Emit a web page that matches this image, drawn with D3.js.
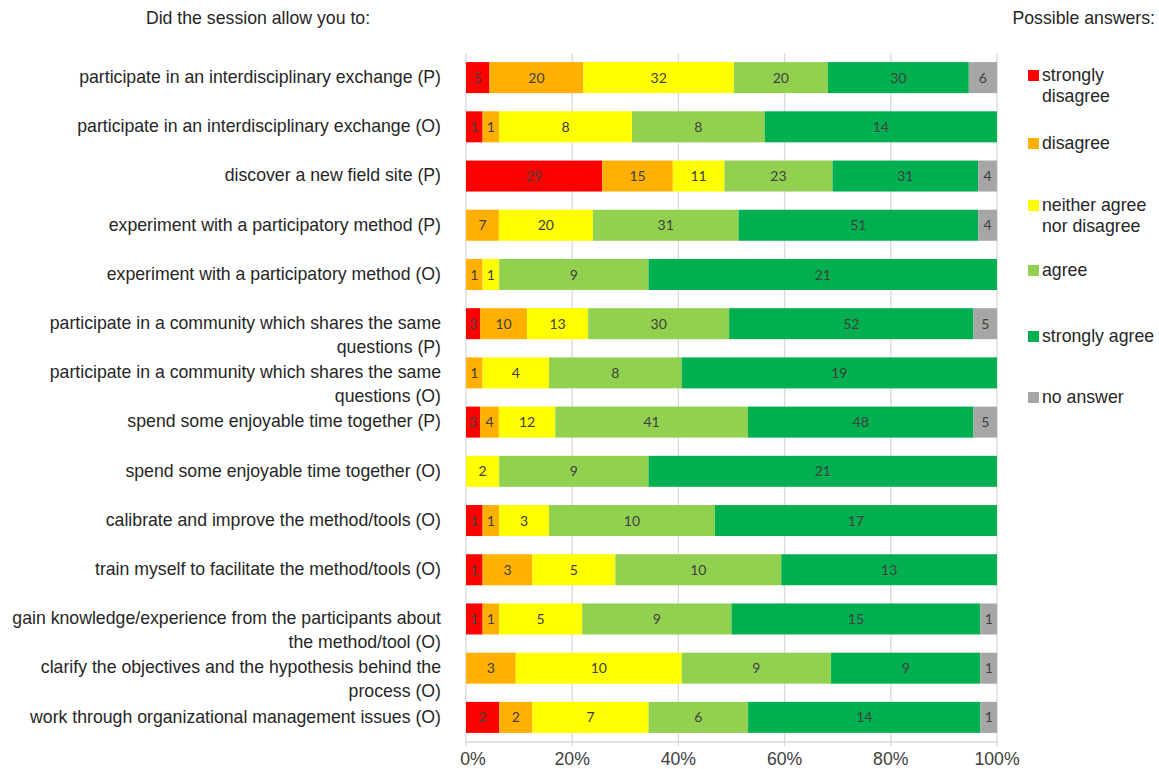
<!DOCTYPE html>
<html>
<head>
<meta charset="utf-8">
<script src="https://cdn.jsdelivr.net/npm/d3@7"></script>
<style>
  body { margin: 0; background: #fff; }
  svg text { font-family: "Liberation Sans", Arial, sans-serif; }
</style>
</head>
<body>
<div id="chart"></div>
<script>
// questions (rows, top to bottom); "\n" marks a line break in the label
const questions = [
  "participate in an interdisciplinary exchange (P)",
  "participate in an interdisciplinary exchange (O)",
  "discover a new field site (P)",
  "experiment with a participatory method (P)",
  "experiment with a participatory method (O)",
  "participate in a community which shares the same\nquestions (P)",
  "participate in a community which shares the same\nquestions (O)",
  "spend some enjoyable time together (P)",
  "spend some enjoyable time together (O)",
  "calibrate and improve the method/tools (O)",
  "train myself to facilitate the method/tools (O)",
  "gain knowledge/experience from the participants about\nthe method/tool (O)",
  "clarify the objectives and the hypothesis behind the\nprocess (O)",
  "work through organizational management issues (O)"
];

const answers = ["strongly disagree", "disagree", "neither agree nor disagree",
                 "agree", "strongly agree", "no answer"];
const legendLabels = [["strongly", "disagree"], ["disagree"], ["neither agree", "nor disagree"],
                      ["agree"], ["strongly agree"], ["no answer"]];
const colors = ["#FF0000", "#FFB000", "#FFFF00", "#92D050", "#00B050", "#A6A6A6"];

// counts per answer, one value per question
const stronglyDisagree = [5, 1, 29, 0, 0, 3, 0, 3, 0, 1, 1, 1, 0, 2];
const disagree         = [20, 1, 15, 7, 1, 10, 1, 4, 0, 1, 3, 1, 3, 2];
const neither          = [32, 8, 11, 20, 1, 13, 4, 12, 2, 3, 5, 5, 10, 7];
const agree            = [20, 8, 23, 31, 9, 30, 8, 41, 9, 10, 10, 9, 9, 6];
const stronglyAgree    = [30, 14, 31, 51, 21, 52, 19, 48, 21, 17, 13, 15, 9, 14];
const noAnswer         = [6, 0, 4, 4, 0, 5, 0, 5, 0, 0, 0, 1, 1, 1];

const xTicks = [0, 0.2, 0.4, 0.6, 0.8, 1];

const width = 1159, height = 769;
const margin = {top: 53, right: 162, bottom: 27, left: 466};
const fontSize = "17.7px";

const series = [stronglyDisagree, disagree, neither, agree, stronglyAgree, noAnswer];
const rows = questions.map((q, i) => {
  const row = {question: q};
  answers.forEach((a, k) => row[a] = series[k][i]);
  return row;
});

const stacked = d3.stack()
  .keys(answers)
  .offset(d3.stackOffsetExpand)(rows);

const svg = d3.select("#chart").append("svg")
  .attr("width", width)
  .attr("height", height);

const x = d3.scaleLinear()
  .domain([0, 1])
  .range([margin.left, width - margin.right]);

const y = d3.scaleBand()
  .domain(questions)
  .range([margin.top, height - margin.bottom])
  .paddingInner(0.37)
  .paddingOuter(0.185);

// gridlines
svg.append("g")
  .selectAll("line")
  .data(xTicks)
  .join("line")
  .attr("x1", d => x(d)).attr("x2", d => x(d))
  .attr("y1", margin.top).attr("y2", height - margin.bottom + 4)
  .attr("stroke", "#D9D9D9")
  .attr("stroke-width", 1.3);

// bottom axis line
svg.append("line")
  .attr("x1", x(0)).attr("x2", x(1))
  .attr("y1", height - margin.bottom).attr("y2", height - margin.bottom)
  .attr("stroke", "#D9D9D9")
  .attr("stroke-width", 1.3);

// bars
const layers = svg.append("g")
  .selectAll("g")
  .data(stacked)
  .join("g")
  .attr("fill", (d, i) => colors[i]);

layers.selectAll("rect")
  .data(d => d)
  .join("rect")
  .attr("x", d => x(d[0]))
  .attr("width", d => x(d[1]) - x(d[0]))
  .attr("y", d => y(d.data.question))
  .attr("height", y.bandwidth());

// value labels
layers.each(function(layer) {
  d3.select(this).selectAll("text")
    .data(layer.filter(d => d.data[layer.key] > 0))
    .join("text")
    .attr("x", d => (x(d[0]) + x(d[1])) / 2)
    .attr("y", d => y(d.data.question) + y.bandwidth() / 2)
    .attr("dy", "0.36em")
    .attr("text-anchor", "middle")
    .attr("fill", "#404040")
    .style("font-family", "Lato, 'Open Sans', sans-serif")
    .style("font-size", "14px")
    .text(d => d.data[layer.key]);
});

// question labels
svg.append("g")
  .selectAll("text")
  .data(questions)
  .join("text")
  .attr("text-anchor", "end")
  .attr("fill", "#262626")
  .style("font-size", fontSize)
  .attr("transform", d => `translate(441,${y(d) + y.bandwidth() / 2})`)
  .each(function(d) {
    d3.select(this).selectAll("tspan")
      .data(d.split("\n"))
      .join("tspan")
      .attr("x", 0)
      .attr("y", (t, i) => i * 24)
      .attr("dy", "0.3em")
      .text(t => t);
  });

// x axis tick labels
svg.append("g")
  .selectAll("text")
  .data(xTicks)
  .join("text")
  .attr("x", d => x(d) + (d === 0 ? 7 : 0))
  .attr("y", height - 4)
  .attr("text-anchor", "middle")
  .attr("fill", "#404040")
  .style("font-size", fontSize)
  .text(d3.format(".0%"));

// headings
svg.append("text")
  .attr("x", 258).attr("y", 24)
  .attr("text-anchor", "middle")
  .attr("fill", "#262626")
  .style("font-size", fontSize)
  .text("Did the session allow you to:");

svg.append("text")
  .attr("x", 1155).attr("y", 24)
  .attr("text-anchor", "end")
  .attr("fill", "#262626")
  .style("font-size", fontSize)
  .text("Possible answers:");

// legend
const legendY = [75, 143, 205, 270, 336, 397];
const legend = svg.append("g")
  .selectAll("g")
  .data(answers)
  .join("g")
  .attr("transform", (d, i) => `translate(1028,${legendY[i]})`);

legend.append("rect")
  .attr("x", 0).attr("y", -5)
  .attr("width", 11).attr("height", 11)
  .attr("fill", (d, i) => colors[i]);

legend.append("text")
  .attr("fill", "#262626")
  .style("font-size", fontSize)
  .each(function(d, i) {
    d3.select(this).selectAll("tspan")
      .data(legendLabels[i])
      .join("tspan")
      .attr("x", 14)
      .attr("y", (t, j) => j * 21)
      .attr("dy", "0.35em")
      .text(t => t);
  });
</script>
</body>
</html>
